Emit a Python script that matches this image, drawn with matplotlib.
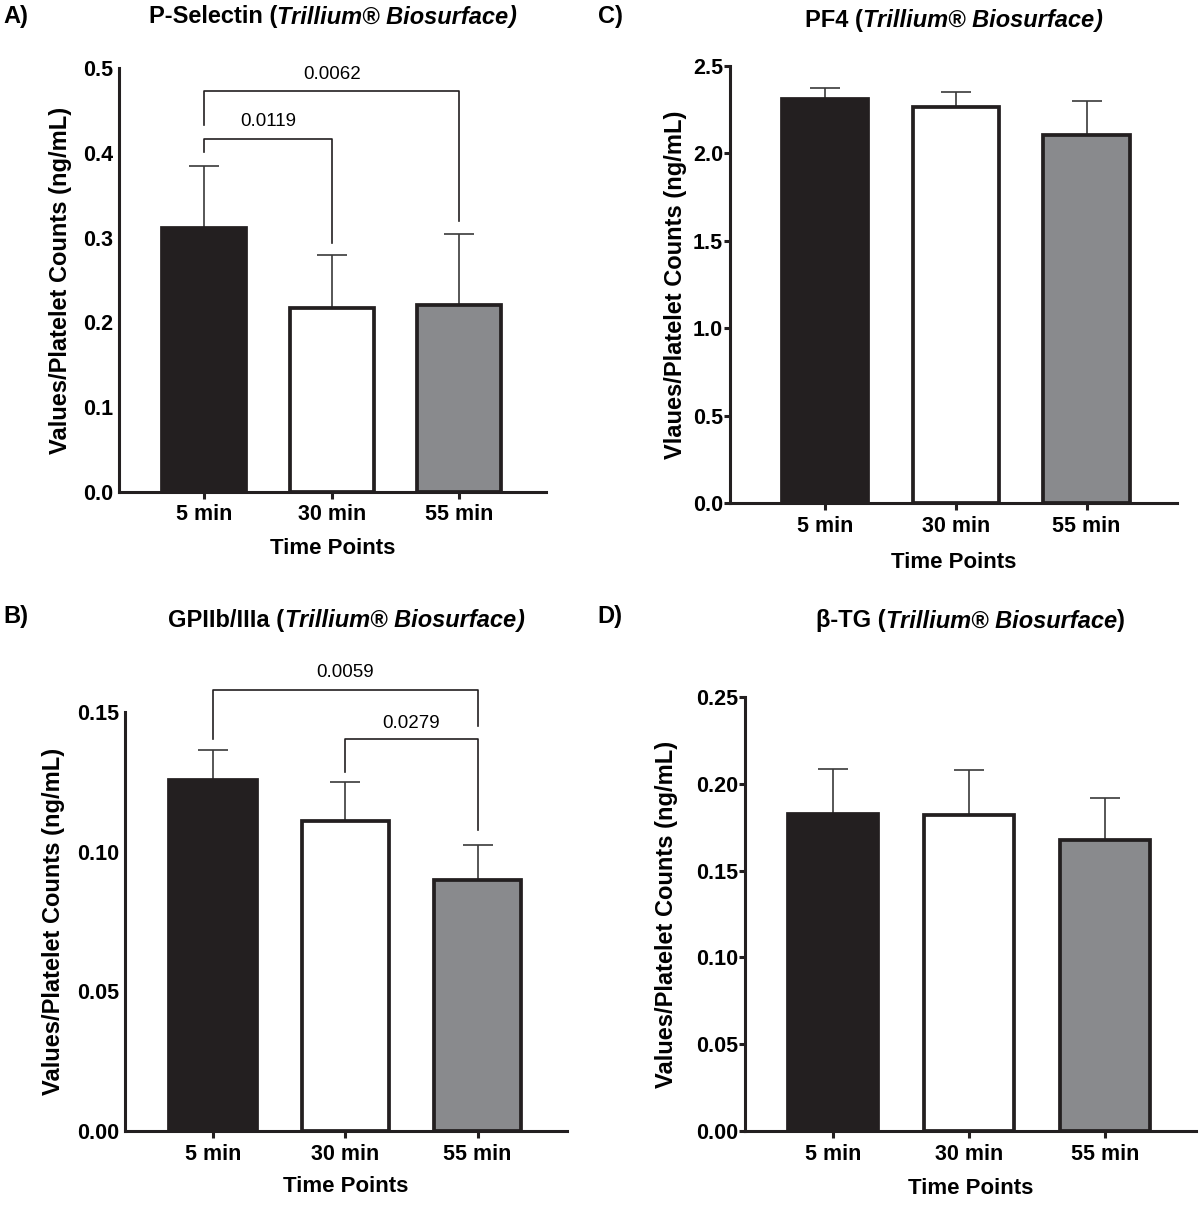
import matplotlib
matplotlib.use("Agg")
import matplotlib.pyplot as plt
import numpy as np

FONT = ["Liberation Sans", "DejaVu Sans"]
plt.rcParams["font.family"] = FONT

categories = ["5 min", "30 min", "55 min"]

# means and upper SD
pselectin_mean = [0.311, 0.217, 0.220]
pselectin_err = [0.074, 0.062, 0.084]
gp_mean = [0.1255, 0.111, 0.0898]
gp_err = [0.0109, 0.0141, 0.0125]
pf4_mean = [2.312, 2.266, 2.103]
pf4_err = [0.063, 0.088, 0.194]
btg_mean = [0.1828, 0.1822, 0.1678]
btg_err = [0.0258, 0.0255, 0.0243]

# brackets: (from, to, bar height, left leg end, right leg end, p value, text y)
pselectin_brackets = [(0, 1, 0.416, 0.4015, 0.294, "0.0119", 0.437),
                      (0, 2, 0.473, 0.433, 0.320, "0.0062", 0.492)]
gp_brackets = [(0, 2, 0.1579, 0.1403, 0.1450, "0.0059", 0.1640),
               (1, 2, 0.1404, 0.1285, 0.1078, "0.0279", 0.1460)]

bar_colors = ["#231f20", "#ffffff", "#898a8d"]
EDGE = "#231f20"

W, H = 1200, 1224
fig = plt.figure(figsize=(W / 100, H / 100), dpi=100)


def px_axes(left, right, top, bottom):
    return fig.add_axes([left / W, 1 - bottom / H, (right - left) / W, (bottom - top) / H])


panels = [
    dict(box=(119, 546, 68, 492), xlim=(-0.667, 2.68), mean=pselectin_mean, err=pselectin_err,
         ylim=0.5, ticks=np.arange(0, 0.51, 0.1), fmt="{:.1f}", ylab="Values/Platelet Counts (ng/mL)",
         title=("P-Selectin (", "Trillium® Biosurface", ")"), close_it=True, tlen=0,
         brackets=pselectin_brackets, tag="A)", tag_xy=(3, 17), title_y=17,
         ylab_x=61, xlab_y=549),
    dict(box=(125, 567, 712, 1131), xlim=(-0.664, 2.675), mean=gp_mean, err=gp_err,
         ylim=0.15, ticks=np.arange(0, 0.151, 0.05), fmt="{:.2f}", ylab="Values/Platelet Counts (ng/mL)",
         title=("GPIIb/IIIa (", "Trillium® Biosurface", ")"), close_it=True, tlen=0,
         brackets=gp_brackets, tag="B)", tag_xy=(3, 617), title_y=620,
         ylab_x=54, xlab_y=1187),
    dict(box=(730, 1177, 66, 503), xlim=(-0.725, 2.69), mean=pf4_mean, err=pf4_err,
         ylim=2.5, ticks=np.arange(0, 2.51, 0.5), fmt="{:.1f}", ylab="Vlaues/Platelet Counts (ng/mL)",
         title=("PF4 (", "Trillium® Biosurface", ")"), close_it=True, tlen=4,
         brackets=[], tag="C)", tag_xy=(598, 17), title_y=20,
         ylab_x=676, xlab_y=562),
    dict(box=(745, 1196, 697, 1131), xlim=(-0.645, 2.67), mean=btg_mean, err=btg_err,
         ylim=0.25, ticks=np.arange(0, 0.251, 0.05), fmt="{:.2f}", ylab="Values/Platelet Counts (ng/mL)",
         title=("β-TG (", "Trillium® Biosurface", ")"), close_it=False, tlen=4,
         brackets=[], tag="D)", tag_xy=(597, 617), title_y=621,
         ylab_x=667, xlab_y=1189),
]

renderer = fig.canvas.get_renderer()

for p in panels:
    l, r, t, b = p["box"]
    ax = px_axes(l, r, t, b)
    x = np.arange(len(categories))
    ax.errorbar(x, p["mean"], yerr=[np.zeros(3), p["err"]], fmt="none", ecolor="#3a3a3a",
                elinewidth=1.2, capsize=11, capthick=1.2, zorder=1)
    ax.bar(x, p["mean"], width=0.66, color=bar_colors, edgecolor=EDGE, linewidth=2.7, zorder=2)
    ax.set_xlim(*p["xlim"])
    ax.set_ylim(0, p["ylim"])
    ax.set_xticks(x)
    ax.set_xticklabels(categories, fontsize=15.5, fontweight="bold")
    ax.set_yticks(p["ticks"])
    ax.set_yticklabels([p["fmt"].format(v) for v in p["ticks"]], fontsize=15.5, fontweight="bold")
    for side in ["top", "right"]:
        ax.spines[side].set_visible(False)
    for side in ["left", "bottom"]:
        ax.spines[side].set_linewidth(2.2)
        ax.spines[side].set_color(EDGE)
    ax.tick_params(axis="x", length=5, width=2.2, color=EDGE, pad=4)
    ax.tick_params(axis="y", length=p["tlen"], width=2.2, color=EDGE, pad=4.3 if p["tlen"] == 0 else 1)

    ax.set_xlabel("Time Points", fontsize=16, fontweight="bold", va="center")
    ax.xaxis.set_label_coords(0.5, (b - p["xlab_y"]) / (b - t))
    ax.set_ylabel(p["ylab"], fontsize=17, fontweight="bold", va="center")
    ax.yaxis.set_label_coords((p["ylab_x"] - l) / (r - l), 0.5)

    for i, j, yb, yl, yr, txt, ty in p["brackets"]:
        ax.plot([i, i, j, j], [yl, yb, yb, yr], color="#231f20", lw=1.2, clip_on=False, zorder=3)
        ax.text((i + j) / 2, ty, txt, ha="center", va="center", fontsize=13.5, clip_on=False)

    # title made of bold and bold italic pieces, centred over the axes
    styles = ["normal", "italic", "italic" if p["close_it"] else "normal"]
    pieces = []
    for s, st in zip(p["title"], styles):
        pieces.append(fig.text(0, 0, s, fontsize=17, fontweight="bold", fontstyle=st, va="center"))
    widths = [tx.get_window_extent(renderer).width for tx in pieces]
    cx = (l + r) / 2 - sum(widths) / 2
    for tx, w in zip(pieces, widths):
        tx.set_position((cx / W, 1 - p["title_y"] / H))
        cx += w

    fig.text(p["tag_xy"][0] / W, 1 - p["tag_xy"][1] / H, p["tag"], fontsize=17,
             fontweight="bold", ha="left", va="center")

fig.savefig("out.png", dpi=100, facecolor="white")
